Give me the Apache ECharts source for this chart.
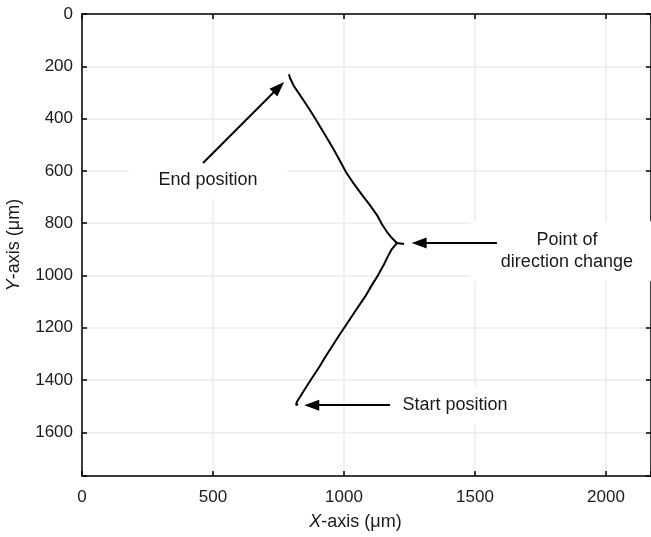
<!DOCTYPE html>
<html><head><meta charset="utf-8">
<script src="https://cdn.jsdelivr.net/npm/echarts@6/dist/echarts.min.js"></script>
<style>html,body{margin:0;padding:0;background:#fff}#c{width:651px;height:537px}</style>
</head><body><div id="c"></div>
<script>
// Track (µm), from start to end
const trackX = [825, 817, 820, 832, 851, 878, 905, 931, 958, 985, 1015, 1046, 1080, 1107, 1130, 1153, 1168, 1183, 1202, 1229, 1202, 1183, 1164, 1145, 1126, 1099, 1069, 1038, 1008, 985, 962, 935, 908, 882, 855, 832, 809, 794, 790];
const trackY = [1492, 1496, 1484, 1465, 1434, 1392, 1351, 1308, 1266, 1224, 1179, 1132, 1082, 1036, 999, 957, 926, 899, 876, 880, 876, 857, 833, 804, 769, 731, 692, 650, 605, 562, 520, 474, 429, 386, 344, 310, 276, 245, 230];
// Annotations
const labelTexts = ['End position', 'Point of\ndirection change', 'Start position'];
const labelX = [481, 1851, 1424];
const labelY = [635, 907, 1496];
const arrowFromX = [462, 1584, 1176];
const arrowFromY = [570, 876, 1496];
const arrowToX = [751, 1287, 877];
const arrowToY = [280, 876, 1496];
const xRange = [0, 2172];
const yRange = [0, 1767];

const chart = echarts.init(document.getElementById('c'));
const font = 'Liberation Sans, Arial, sans-serif';
const axisCommon = {
  axisLine: {show: true, onZero: false, lineStyle: {color: '#000', width: 1.5}},
  axisTick: {show: true, inside: true, length: 5, lineStyle: {color: '#000', width: 1.5}},
};
const hideOdd = step => v => (v % step === 0 ? String(v) : '');
chart.setOption({
  animation: false,
  backgroundColor: '#fff',
  grid: {left: 82, top: 14, right: 0, bottom: 61, containLabel: false, outerBoundsMode: 'none'},
  xAxis: [
    Object.assign({type: 'value', position: 'bottom', min: xRange[0], max: xRange[1], interval: 500,
      splitLine: {show: true, lineStyle: {color: '#ebebeb', width: 1.5}},
      axisLabel: {fontSize: 17, color: '#1a1a1a', fontFamily: font, margin: 13, formatter: hideOdd(500)},
      name: '{i|X}-axis (μm)', nameLocation: 'middle', nameGap: 37,
      nameTextStyle: {fontSize: 18, color: '#1a1a1a', fontFamily: font, padding: [0, 22, 0, 0],
        rich: {i: {fontStyle: 'italic', fontSize: 18, color: '#1a1a1a', fontFamily: font}}}
    }, axisCommon),
    Object.assign({type: 'value', position: 'top', min: xRange[0], max: xRange[1], interval: 500,
      splitLine: {show: false}, axisLabel: {show: false}}, axisCommon)
  ],
  yAxis: [
    Object.assign({type: 'value', position: 'left', inverse: true, min: yRange[0], max: yRange[1], interval: 200,
      splitLine: {show: true, lineStyle: {color: '#ebebeb', width: 1.5}},
      axisLabel: {fontSize: 17, color: '#1a1a1a', fontFamily: font, margin: 9, formatter: hideOdd(200)},
      name: '{i|Y}-axis (μm)', nameLocation: 'middle', nameGap: 59, nameRotate: 90,
      nameTextStyle: {fontSize: 18, color: '#1a1a1a', fontFamily: font,
        rich: {i: {fontStyle: 'italic', fontSize: 18, color: '#1a1a1a', fontFamily: font}}}
    }, axisCommon),
    Object.assign({type: 'value', position: 'right', inverse: true, min: yRange[0], max: yRange[1], interval: 200,
      splitLine: {show: false}, axisLabel: {show: false}}, axisCommon)
  ],
  series: [{
    type: 'line',
    xAxisIndex: 0, yAxisIndex: 0,
    data: trackX.map((x, i) => [x, trackY[i]]),
    showSymbol: false, smooth: false,
    lineStyle: {color: '#000', width: 2},
    silent: true,
    z: 12,
    markPoint: {
      silent: true, z: 5,
      symbol: 'circle', symbolSize: 0,
      data: labelTexts.map((t, i) => ({
        coord: [labelX[i], labelY[i]],
        label: {show: true, position: 'inside', formatter: t, fontSize: 18, lineHeight: 22, color: '#1a1a1a', fontFamily: font,
          backgroundColor: '#fff', padding: [8, 30], align: 'center', verticalAlign: 'middle'}
      }))
    },
    markLine: {
      silent: true, z: 10,
      symbol: ['none', 'triangle'], symbolSize: [1, [11, 15]],
      label: {show: false},
      lineStyle: {color: '#000', width: 2, type: 'solid'},
      data: arrowFromX.map((x, i) => [
        {coord: [x, arrowFromY[i]], symbol: 'none'},
        {coord: [arrowToX[i], arrowToY[i]], symbol: 'triangle', symbolSize: [11, 15]}
      ])
    }
  }]
});
</script>
</body></html>
